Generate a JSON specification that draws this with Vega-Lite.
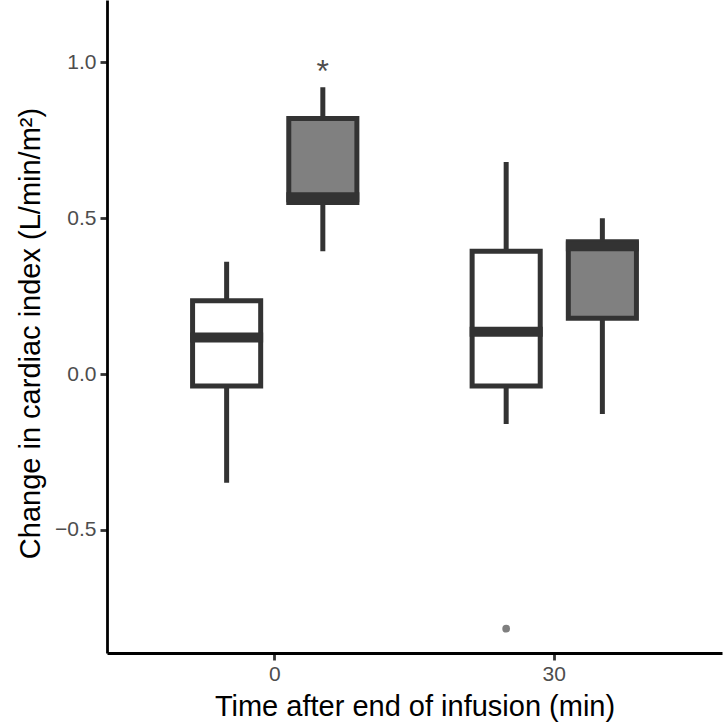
{
  "$schema": "https://vega.github.io/schema/vega-lite/v6.json",
  "width": 615,
  "height": 653,
  "autosize": {"type": "none"},
  "padding": {"left": 107, "top": 0, "right": 2, "bottom": 71},
  "background": "white",
  "config": {
    "view": {"stroke": null},
    "font": "Liberation Sans",
    "axis": {
      "grid": false,
      "domainColor": "black",
      "domainWidth": 2.8,
      "tickColor": "#333333",
      "tickWidth": 2.8,
      "tickSize": 7,
      "labelColor": "#4D4D4D",
      "labelFont": "Liberation Sans",
      "labelFontSize": 21,
      "titleFont": "Liberation Sans",
      "titleFontSize": 29,
      "titleFontWeight": "normal",
      "titleColor": "black"
    }
  },
  "datasets": {
    "boxes": [
      {"time": "0", "group": "A", "lower": -0.349, "q1": -0.038, "median": 0.117, "q3": 0.235, "upper": 0.36},
      {"time": "0", "group": "B", "lower": 0.394, "q1": 0.55, "median": 0.567, "q3": 0.82, "upper": 0.92},
      {"time": "30", "group": "A", "lower": -0.16, "q1": -0.038, "median": 0.136, "q3": 0.394, "upper": 0.68},
      {"time": "30", "group": "B", "lower": -0.128, "q1": 0.179, "median": 0.41, "q3": 0.424, "upper": 0.5}
    ],
    "outliers": [
      {"time": "30", "group": "A", "value": -0.817}
    ],
    "marks": [
      {"time": "0", "group": "B", "value": 0.97, "label": "*"}
    ]
  },
  "encoding": {
    "x": {
      "field": "time",
      "type": "nominal",
      "scale": {"domain": ["0", "30"], "paddingInner": 0, "paddingOuter": 0.1},
      "axis": {"labelAngle": 0, "title": "Time after end of infusion (min)", "labelPadding": 3, "titlePadding": 8}
    },
    "xOffset": {
      "field": "group",
      "type": "nominal",
      "scale": {"domain": ["A", "B"], "paddingInner": 0.292, "paddingOuter": 0.599}
    }
  },
  "layer": [
    {
      "data": {"name": "boxes"},
      "mark": {"type": "rule", "color": "#333333", "strokeWidth": 5},
      "encoding": {
        "y": {
          "field": "lower",
          "type": "quantitative",
          "scale": {"domain": [-0.895, 1.2], "nice": false, "zero": false},
          "axis": {"values": [-0.5, 0, 0.5, 1.0], "format": ".1f", "title": "Change in cardiac index (L/min/m²)", "labelPadding": 4, "titlePadding": 9, "titleY": 333}
        },
        "y2": {"field": "upper"}
      }
    },
    {
      "data": {"name": "boxes"},
      "mark": {"type": "bar", "stroke": "#333333", "strokeWidth": 5},
      "encoding": {
        "y": {
          "field": "q1",
          "type": "quantitative",
          "scale": {"domain": [-0.895, 1.2], "nice": false, "zero": false},
          "title": "Change in cardiac index (L/min/m²)"
        },
        "y2": {"field": "q3"},
        "fill": {
          "field": "group",
          "type": "nominal",
          "scale": {"domain": ["A", "B"], "range": ["#FFFFFF", "#808080"]},
          "legend": null
        }
      }
    },
    {
      "data": {"name": "boxes"},
      "mark": {"type": "tick", "color": "#333333", "size": 73, "thickness": 10, "opacity": 1},
      "encoding": {
        "y": {
          "field": "median",
          "type": "quantitative",
          "scale": {"domain": [-0.895, 1.2], "nice": false, "zero": false},
          "title": "Change in cardiac index (L/min/m²)"
        }
      }
    },
    {
      "data": {"name": "outliers"},
      "mark": {"type": "point", "filled": true, "color": "#7F7F7F", "size": 60, "opacity": 1},
      "encoding": {
        "y": {
          "field": "value",
          "type": "quantitative",
          "scale": {"domain": [-0.895, 1.2], "nice": false, "zero": false},
          "title": "Change in cardiac index (L/min/m²)"
        }
      }
    },
    {
      "data": {"name": "marks"},
      "mark": {"type": "text", "color": "#4D4D4D", "fontSize": 32, "baseline": "middle", "align": "center"},
      "encoding": {
        "y": {
          "field": "value",
          "type": "quantitative",
          "scale": {"domain": [-0.895, 1.2], "nice": false, "zero": false},
          "title": "Change in cardiac index (L/min/m²)"
        },
        "text": {"field": "label"}
      }
    }
  ]
}
